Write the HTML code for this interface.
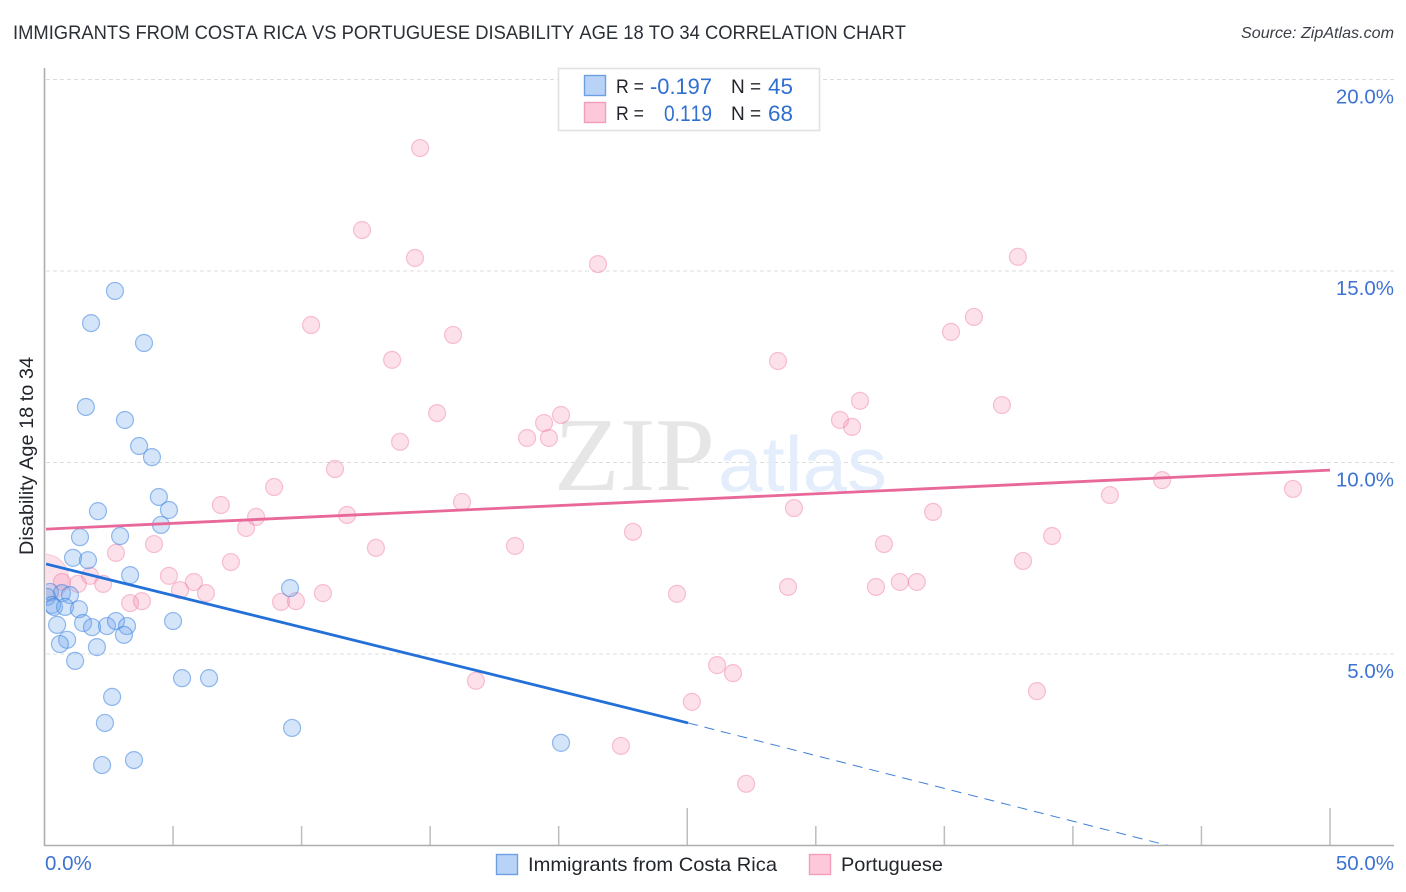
<!DOCTYPE html>
<html lang="en">
<head>
<meta charset="utf-8">
<title>Immigrants from Costa Rica vs Portuguese Disability Age 18 to 34 Correlation Chart</title>
<style>
html,body{margin:0;padding:0;background:#fff;}
svg{display:block;font-family:"Liberation Sans",sans-serif;font-kerning:none;}
</style>
</head>
<body>
<svg id="chart" width="1406" height="892" viewBox="0 0 1406 892" xmlns="http://www.w3.org/2000/svg">
  <defs>
    <clipPath id="plot-clip"><rect x="46" y="60" width="1350" height="785"/></clipPath>
  </defs>
  <rect x="0" y="0" width="1406" height="892" fill="#ffffff"/>
  <text x="13" y="39" font-size="19.5" fill="#2b2f36" textLength="893" lengthAdjust="spacingAndGlyphs">IMMIGRANTS FROM COSTA RICA VS PORTUGUESE DISABILITY AGE 18 TO 34 CORRELATION CHART</text>
  <text x="1394" y="38" font-size="16" font-style="italic" fill="#3a3f46" text-anchor="end" textLength="153" lengthAdjust="spacingAndGlyphs">Source: ZipAtlas.com</text>

  <g id="grid"></g>

  <g>
    <text x="554" y="490" font-family="'Liberation Serif',serif" font-size="105" fill="#e6e6e6" textLength="161" lengthAdjust="spacingAndGlyphs">ZIP</text>
    <text x="718" y="491" font-size="78" fill="#e3edfb" textLength="169" lengthAdjust="spacingAndGlyphs">atlas</text>
  </g>

  <g id="axes"></g>
  <g id="marks" clip-path="url(#plot-clip)"></g>
  <g id="tick-labels"></g>

  <text transform="translate(33,456) rotate(-90)" font-size="19" fill="#22262c" text-anchor="middle" textLength="198" lengthAdjust="spacingAndGlyphs">Disability Age 18 to 34</text>

  <g>
    <rect x="558.5" y="68.5" width="261" height="62" fill="#ffffff" stroke="#e2e2e2" stroke-width="1.6"/>
    <rect x="584.5" y="75.5" width="21" height="20" fill="#b9d3f7" stroke="#6f9fe3" stroke-width="1.4"/>
    <rect x="584.5" y="102.5" width="21" height="20" fill="#fcc8da" stroke="#f29dba" stroke-width="1.4"/>
    <text x="616" y="93" font-size="19" fill="#22262c" textLength="28" lengthAdjust="spacingAndGlyphs">R =</text>
    <text x="712" y="94" font-size="22" fill="#2f6fd0" text-anchor="end" textLength="62" lengthAdjust="spacingAndGlyphs">-0.197</text>
    <text x="731" y="93" font-size="19" fill="#22262c">N =</text>
    <text x="768" y="94" font-size="22" fill="#2f6fd0" textLength="25" lengthAdjust="spacingAndGlyphs">45</text>
    <text x="616" y="120" font-size="19" fill="#22262c" textLength="28" lengthAdjust="spacingAndGlyphs">R =</text>
    <text x="712" y="121" font-size="22" fill="#2f6fd0" text-anchor="end" textLength="48" lengthAdjust="spacingAndGlyphs">0.119</text>
    <text x="731" y="120" font-size="19" fill="#22262c">N =</text>
    <text x="768" y="121" font-size="22" fill="#2f6fd0" textLength="25" lengthAdjust="spacingAndGlyphs">68</text>
  </g>

  <g>
    <rect x="496.5" y="854.5" width="21" height="20" fill="#b9d3f7" stroke="#6f9fe3" stroke-width="1.4"/>
    <text x="528" y="871" font-size="19.5" fill="#22262c" textLength="249" lengthAdjust="spacingAndGlyphs">Immigrants from Costa Rica</text>
    <rect x="809.5" y="854.5" width="21" height="20" fill="#fcc8da" stroke="#f29dba" stroke-width="1.4"/>
    <text x="841" y="871" font-size="19.5" fill="#22262c" textLength="102" lengthAdjust="spacingAndGlyphs">Portuguese</text>
  </g>
</svg>

<script>
var costaRicaX = [2.74,1.81,3.87,1.61,3.13,3.68,4.18,4.45,2.08,4.84,4.53,2.94,1.38,1.11,1.69,3.33,9.55,0.21,0.68,0.99,0.10,0.29,0.37,0.80,1.34,1.50,0.49,1.85,2.43,2.78,3.21,3.09,5.00,0.88,0.60,2.04,1.19,5.35,6.40,2.63,2.35,9.63,20.09,3.48,2.24];
var costaRicaY = [14.48,13.64,13.12,11.45,11.11,10.43,10.14,9.10,8.73,8.76,8.37,8.08,8.05,7.51,7.45,7.06,6.72,6.62,6.59,6.54,6.49,6.28,6.23,6.23,6.17,5.81,5.76,5.70,5.73,5.86,5.73,5.50,5.86,5.37,5.26,5.18,4.82,4.37,4.37,3.88,3.20,3.07,2.68,2.23,2.10];
var portugueseX = [14.61,12.35,14.41,21.53,37.86,10.37,15.89,36.15,35.26,13.52,28.53,15.27,31.72,37.24,20.09,19.43,18.77,19.62,13.83,30.94,31.41,11.30,43.47,48.56,41.44,8.93,6.86,16.24,8.23,11.77,29.15,34.56,7.84,22.89,39.19,4.26,12.89,18.30,32.65,2.78,7.25,38.06,4.84,5.81,5.27,6.28,1.77,0.68,1.30,2.28,3.33,3.79,9.20,9.78,10.83,24.60,28.92,32.34,33.27,33.93,26.16,26.78,16.78,25.18,38.60,22.42,27.29];
var portugueseY = [18.21,16.07,15.34,15.18,15.37,13.59,13.33,13.80,13.41,12.68,12.65,11.29,11.61,11.50,11.24,11.03,10.64,10.64,10.54,11.11,10.93,9.83,9.54,9.31,9.15,9.36,8.89,8.97,8.58,8.63,8.81,8.71,8.29,8.19,8.08,7.87,7.77,7.82,7.87,7.64,7.40,7.43,7.04,6.88,6.67,6.59,7.04,6.88,6.83,6.83,6.33,6.38,6.36,6.38,6.59,6.57,6.75,6.75,6.88,6.88,4.71,4.50,4.30,3.75,4.03,2.60,1.61];
var portugueseLargeX = [0.0];
var portugueseLargeY = [6.98];
var costaRicaTrendX = [0.06, 25.03];
var costaRicaTrendY = [7.35, 3.20];
var costaRicaTrendDashX = [25.03, 43.70];
var costaRicaTrendDashY = [3.20, 0.0];
var portugueseTrendX = [0.06, 50.0];
var portugueseTrendY = [8.26, 9.80];
var yTicks = [5, 10, 15, 20];
var yTickLabels = ["5.0%", "10.0%", "15.0%", "20.0%"];
var xTicks = [0, 5, 10, 15, 20, 25, 30, 35, 40, 45, 50];
var xEdgeLabels = ["0.0%", "50.0%"];

var SVGNS = "http://www.w3.org/2000/svg";
function sx(v) { return 44.5 + v * 25.71; }
function sy(v) { return 845.5 - v * 38.3; }
function mk(tag, parent, attrs) {
  var el = document.createElementNS(SVGNS, tag);
  for (var k in attrs) { el.setAttribute(k, attrs[k]); }
  parent.appendChild(el);
  return el;
}

var grid = document.getElementById("grid");
var axes = document.getElementById("axes");
var marks = document.getElementById("marks");
var tickLabels = document.getElementById("tick-labels");

yTicks.forEach(function (t, i) {
  var line = mk("line", grid, {x1: 46, x2: 1394, y1: sy(t), y2: sy(t), stroke: "#dcdcdc", "stroke-width": 1, "stroke-dasharray": "4 3"});
  
  
  var lab = mk("text", tickLabels, {x: 1394, y: sy(t) + 24, "font-size": 20.5, fill: "#3d74d1", "text-anchor": "end"});
  
  
  lab.textContent = yTickLabels[i];
});

var yAxis = mk("line", axes, {x1: 44.5, x2: 44.5, y1: 68, y2: 846, stroke: "#aeaeae", "stroke-width": 1.6});


var xAxis = mk("line", axes, {x1: 44, x2: 1394, y1: 845.5, y2: 845.5, stroke: "#aeaeae", "stroke-width": 1.6});



xTicks.forEach(function (t) {
  if (t === 0) { return; }
  var tall = (t === 25 || t === 50);
  var tick = mk("line", axes, {x1: sx(t), x2: sx(t), y1: tall ? 808 : 826, y2: 845, stroke: "#bdbdbd", "stroke-width": 1.5});
  
  
});

var xLabLeft = mk("text", tickLabels, {x: 45, y: 870, "font-size": 20.5, fill: "#3d74d1"});


xLabLeft.textContent = xEdgeLabels[0];
var xLabRight = mk("text", tickLabels, {x: 1394, y: 870, "font-size": 20.5, fill: "#3d74d1", "text-anchor": "end"});


xLabRight.textContent = xEdgeLabels[1];

portugueseLargeX.forEach(function (v, i) {
  var c = mk("circle", marks, {cx: sx(v), cy: sy(portugueseLargeY[i]), r: 24, fill: "#f590b2", "fill-opacity": 0.28, stroke: "#ef7fa5", "stroke-opacity": 0.3, "stroke-width": 1.2});
  
  
});
portugueseX.forEach(function (v, i) {
  var c = mk("circle", marks, {cx: sx(v), cy: sy(portugueseY[i]), r: 8.5, fill: "#f590b2", "fill-opacity": 0.28, stroke: "#ef7fa5", "stroke-opacity": 0.45, "stroke-width": 1.2});
  
  
});
costaRicaX.forEach(function (v, i) {
  var c = mk("circle", marks, {cx: sx(v), cy: sy(costaRicaY[i]), r: 8.5, fill: "#6fa5ea", "fill-opacity": 0.3, stroke: "#3f85e0", "stroke-opacity": 0.55, "stroke-width": 1.2});
  
  
});

var pinkTrend = mk("line", marks, {x1: sx(portugueseTrendX[0]), y1: sy(portugueseTrendY[0]), x2: sx(portugueseTrendX[1]), y2: sy(portugueseTrendY[1]), stroke: "#e8689a", "stroke-width": 2.8});


var blueTrend = mk("line", marks, {x1: sx(costaRicaTrendX[0]), y1: sy(costaRicaTrendY[0]), x2: sx(costaRicaTrendX[1]), y2: sy(costaRicaTrendY[1]), stroke: "#2270d8", "stroke-width": 2.8});


var blueDash = mk("line", marks, {x1: sx(costaRicaTrendDashX[0]), y1: sy(costaRicaTrendDashY[0]), x2: sx(costaRicaTrendDashX[1]), y2: sy(costaRicaTrendDashY[1]), stroke: "#3f7fd8", "stroke-width": 1, "stroke-dasharray": "10 7"});


</script>
</body>
</html>
